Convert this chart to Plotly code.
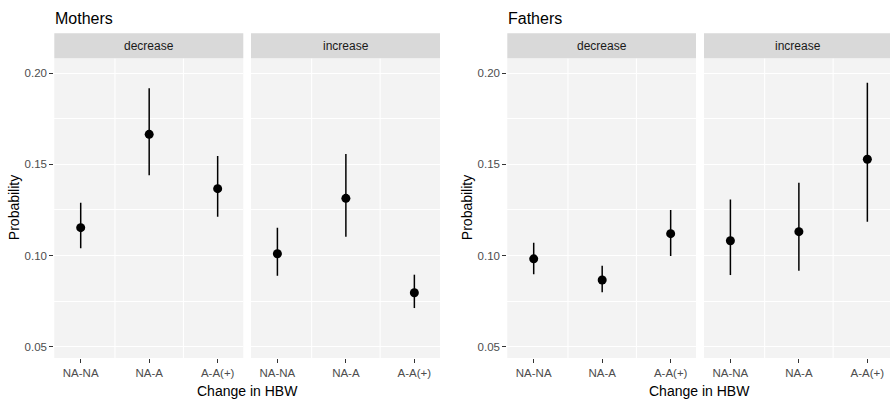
import plotly.graph_objects as go

W, H = 890, 400

categories = ["NA-NA", "NA-A", "A-A(+)"]
facets = ["decrease", "increase"]
y_ticks = [0.05, 0.10, 0.15, 0.20]
y_tick_text = ["0.05", "0.10", "0.15", "0.20"]

# Mothers
m_dec_est = [0.1153, 0.1665, 0.1367]
m_dec_lo = [0.1040, 0.1440, 0.1213]
m_dec_hi = [0.1290, 0.1918, 0.1546]
m_inc_est = [0.1010, 0.1314, 0.0796]
m_inc_lo = [0.0889, 0.1103, 0.0712]
m_inc_hi = [0.1153, 0.1557, 0.0895]

# Fathers
f_dec_est = [0.0982, 0.0866, 0.1120]
f_dec_lo = [0.0898, 0.0798, 0.0997]
f_dec_hi = [0.1070, 0.0944, 0.1250]
f_inc_est = [0.1081, 0.1131, 0.1528]
f_inc_lo = [0.0893, 0.0917, 0.1186]
f_inc_hi = [0.1308, 0.1400, 0.1948]

FONT = "Liberation Sans, Arial, sans-serif"
PANEL_BG = "#F3F3F3"
STRIP_BG = "#D9D9D9"

def px_x(p):
    return p / W

def px_y(p):
    return 1 - p / H

panels = [
    # (est, lo, hi, x-left px, x-right px, facet label)
    (m_dec_est, m_dec_lo, m_dec_hi, 54.3, 243.3, facets[0]),
    (m_inc_est, m_inc_lo, m_inc_hi, 251.0, 440.0, facets[1]),
    (f_dec_est, f_dec_lo, f_dec_hi, 507.3, 696.0, facets[0]),
    (f_inc_est, f_inc_lo, f_inc_hi, 704.0, 892.6, facets[1]),
]

PANEL_TOP, PANEL_BOT = 58.3, 358.0
STRIP_TOP = 33.3
UNIT = 68.48  # px per category step
YR = [0.0438, 0.2082]

fig = go.Figure()
layout = dict(
    width=W, height=H,
    margin=dict(l=0, r=0, t=0, b=0),
    paper_bgcolor="white",
    plot_bgcolor=PANEL_BG,
    showlegend=False,
    font=dict(family=FONT, color="#4D4D4D", size=11.5),
)
shapes = []
annotations = []

for i, (est, lo, hi, xl, xr, lab) in enumerate(panels):
    n = i + 1
    xa = "x" if n == 1 else f"x{n}"
    ya = "y" if n == 1 else f"y{n}"
    up = [h - e for h, e in zip(hi, est)]
    dn = [e - l for e, l in zip(est, lo)]
    fig.add_trace(go.Scatter(
        x=categories, y=est, mode="markers",
        marker=dict(color="black", size=9),
        error_y=dict(type="data", symmetric=False, array=up, arrayminus=dn,
                     color="black", thickness=1.5, width=0),
        xaxis=xa, yaxis=ya, hoverinfo="skip",
    ))
    x_right_edge = min(xr, W)
    left_val = -26.4 / UNIT
    right_val = left_val + (x_right_edge - xl) / UNIT
    layout["xaxis" if n == 1 else f"xaxis{n}"] = dict(
        domain=[px_x(xl), px_x(x_right_edge)],
        type="category", categoryorder="array", categoryarray=categories,
        range=[left_val, right_val],
        showgrid=False, zeroline=False, showline=False,
        ticks="outside", ticklen=4, tickwidth=1, tickcolor="#333333",
        tickfont=dict(family=FONT, size=11.5, color="#4D4D4D"),
        anchor=ya, fixedrange=True,
    )
    left_panel = (i % 2 == 0)
    layout["yaxis" if n == 1 else f"yaxis{n}"] = dict(
        domain=[px_y(PANEL_BOT), px_y(PANEL_TOP)],
        range=YR,
        tickvals=y_ticks, ticktext=y_tick_text,
        showticklabels=left_panel,
        ticks="outside" if left_panel else "",
        ticklen=4, tickwidth=1, tickcolor="#333333",
        tickfont=dict(family=FONT, size=11.5, color="#4D4D4D"),
        showgrid=True, gridcolor="white", gridwidth=1.1,
        minor=dict(tickvals=[0.075, 0.125, 0.175], showgrid=True,
                   gridcolor="white", gridwidth=0.5, ticks=""),
        zeroline=False, showline=False,
        anchor=xa, fixedrange=True,
    )
    # vertical grid lines between categories
    for gx in [0.5, 1.5]:
        shapes.append(dict(type="line", xref=xa, yref=f"{ya} domain",
                           x0=gx, x1=gx, y0=0, y1=1, layer="below",
                           line=dict(color="white", width=1.1)))
    # strip
    shapes.append(dict(type="rect", xref="paper", yref="paper",
                       x0=px_x(xl), x1=px_x(x_right_edge),
                       y0=px_y(PANEL_TOP), y1=px_y(STRIP_TOP),
                       fillcolor=STRIP_BG, line=dict(width=0), layer="below"))
    annotations.append(dict(text=lab, xref="paper", yref="paper",
                            x=px_x((xl + xr) / 2), y=px_y((PANEL_TOP + STRIP_TOP) / 2),
                            xanchor="center", yanchor="middle", showarrow=False,
                            font=dict(family=FONT, size=12, color="#1A1A1A")))

# Titles and axis titles
for title, x0, ylab_x, xcenter in [("Mothers", 54.3, 14.0, (54.3 + 440.0) / 2),
                                    ("Fathers", 507.3, 467.0, (507.3 + 892.6) / 2)]:
    annotations.append(dict(text=title, xref="paper", yref="paper",
                            x=px_x(x0 - 1), y=px_y(18.5), xanchor="left", yanchor="middle",
                            showarrow=False, font=dict(family=FONT, size=16, color="black")))
    annotations.append(dict(text="Probability", xref="paper", yref="paper",
                            x=px_x(ylab_x), y=px_y((PANEL_TOP + PANEL_BOT) / 2),
                            xanchor="center", yanchor="middle", textangle=-90,
                            showarrow=False, font=dict(family=FONT, size=14, color="black")))
    annotations.append(dict(text="Change in HBW", xref="paper", yref="paper",
                            x=px_x(xcenter), y=px_y(390.5), xanchor="center", yanchor="middle",
                            showarrow=False, font=dict(family=FONT, size=14, color="black")))

layout["shapes"] = shapes
layout["annotations"] = annotations
fig.update_layout(**layout)
fig.write_html("out.html")
